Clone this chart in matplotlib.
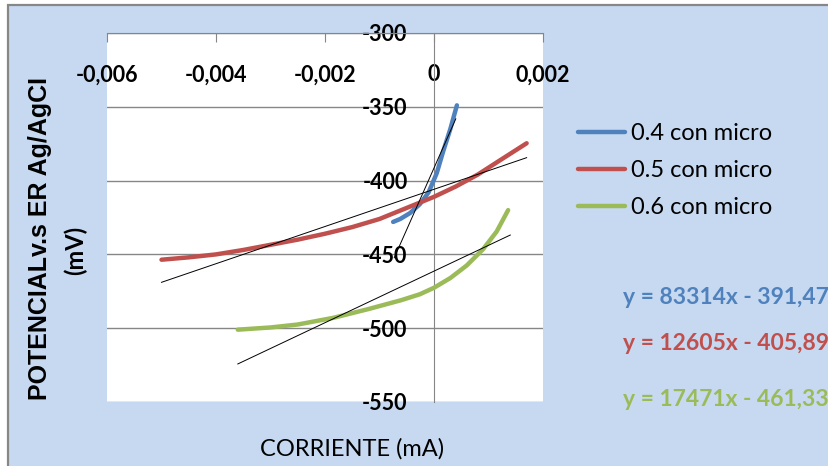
import matplotlib.pyplot as plt
from matplotlib.patches import Rectangle

# Datos
corriente_04 = [-0.00075, -0.00062, -0.00044, -0.00026, -0.0001, 0.00005, 0.00017, 0.0003, 0.00042]
potencial_04 = [-428, -426, -422, -416, -408, -395, -380, -365, -349]

corriente_05 = [-0.005, -0.0045, -0.004, -0.0035, -0.003, -0.0025, -0.002, -0.0015, -0.001,
                -0.0005, 0.0, 0.0004, 0.0008, 0.0012, 0.0017]
potencial_05 = [-453.6, -452, -450, -447, -443.5, -440, -436, -431.5, -426,
                -418.5, -411, -404, -396, -386.5, -374.7]

corriente_06 = [-0.0036, -0.003, -0.0025, -0.00185, -0.0012, -0.0006, -0.00026, 0.0,
                0.0003, 0.0006, 0.0009, 0.00115, 0.00136]
potencial_06 = [-501, -499.5, -497.5, -493, -487, -481, -477, -472.6,
                -466, -457.5, -446.5, -434.5, -420]

series = ["0.4 con micro", "0.5 con micro", "0.6 con micro"]
colores = ["#4F81BD", "#C0504D", "#9BBB59"]

# Lineas de tendencia (y = m x + b)
pendientes = [83314, 12605, 17471]
ordenadas = [-391.47, -405.89, -461.33]
rango_tendencia = [(-0.00073, 0.0004), (-0.005, 0.0017), (-0.0036, 0.0014)]
ecuaciones = ["y = 83314x - 391,47", "y = 12605x - 405,89", "y = 17471x - 461,33"]

xticks = [-0.006, -0.004, -0.002, 0, 0.002]
xtick_labels = ["-0,006", "-0,004", "-0,002", "0", "0,002"]
yticks = [-550, -500, -450, -400, -350, -300]

W, H = 829, 466
fig = plt.figure(figsize=(W / 100, H / 100), dpi=100)
fig.patch.set_facecolor("white")
fig.patches.append(Rectangle((8 / W, -0.1), 1, 1.1 - 5 / H, transform=fig.transFigure,
                             facecolor="#C6D9F1", edgecolor="#878787", linewidth=1.6,
                             zorder=-1))

ax = fig.add_axes([107 / W, 1 - 402 / H, 436 / W, 369 / H])
ax.set_zorder(1)
ax.set_facecolor("white")

datos = [(corriente_04, potencial_04), (corriente_05, potencial_05), (corriente_06, potencial_06)]
for (x, y), nombre, c in zip(datos, series, colores):
    ax.plot(x, y, color=c, linewidth=3.2, solid_capstyle="round", label=nombre, zorder=3)

for m, b, (x0, x1) in zip(pendientes, ordenadas, rango_tendencia):
    ax.plot([x0, x1], [m * x0 + b, m * x1 + b], color="black", linewidth=0.7, zorder=4)

ax.set_xlim(-0.006, 0.002)
ax.set_ylim(-550, -300)

for s in ["top", "right"]:
    ax.spines[s].set_visible(False)
ax.spines["bottom"].set_position(("data", -300))
ax.spines["left"].set_position(("data", 0))
ax.spines["bottom"].set_color("#868686")
ax.spines["left"].set_color("#868686")

ax.set_xticks(xticks)
ax.set_xticklabels(xtick_labels)
ax.set_yticks(yticks)
ax.set_yticklabels([str(v) for v in yticks])
ax.tick_params(axis="x", direction="out", length=6.5, color="#868686", pad=16)
ax.tick_params(axis="y", length=0, pad=19)
for t in ax.get_xticklabels() + ax.get_yticklabels():
    t.set_fontfamily("Lato")
    t.set_fontweight("bold")
    t.set_fontsize(15.5)
ax.grid(axis="y", color="#868686", linewidth=1)

leg = ax.legend(loc="center left", bbox_to_anchor=(557 / W, 1 - 170.5 / H),
                bbox_transform=fig.transFigure, frameon=False,
                prop={"family": "Lato", "size": 17}, handlelength=2.0,
                labelspacing=0.68, handletextpad=0.25)

for i, (txt, c) in enumerate(zip(ecuaciones, colores)):
    fig.text(623 / W, 1 - [297, 343, 400][i] / H, txt, color=c, fontsize=16.5,
             fontweight="bold", family="Lato", va="center", ha="left")

fig.text(40 / W, 1 - 239 / H, "POTENCIALv.s ER Ag/AgCI", rotation=90, fontsize=18,
         fontweight="bold", family="Liberation Sans", va="center", ha="center")
fig.text(75 / W, 1 - 250 / H, "(mV)", rotation=90, fontsize=17,
         fontweight="bold", family="Lato", va="center", ha="center")
fig.text(352 / W, 1 - 449 / H, "CORRIENTE (mA)", fontsize=17,
         family="Lato", va="center", ha="center")

fig.savefig("out.png", dpi=100)
